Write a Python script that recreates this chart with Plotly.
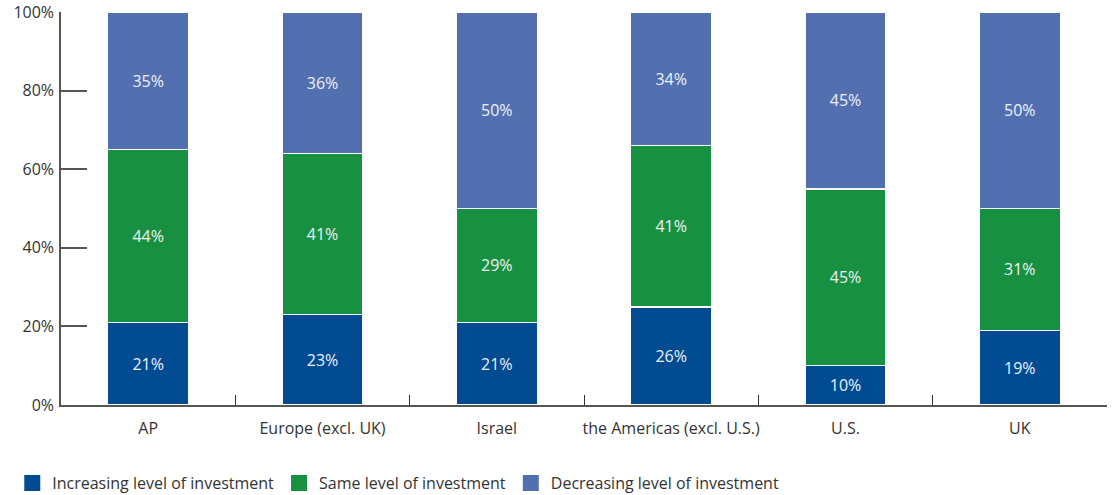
import plotly.graph_objects as go

categories = ["AP", "Europe (excl. UK)", "Israel", "the Americas (excl. U.S.)", "U.S.", "UK"]
increasing = [21, 23, 21, 25, 10, 19]
same = [44, 41, 29, 41, 45, 31]
decreasing = [35, 36, 50, 34, 45, 50]
increasing_labels = ["21%", "23%", "21%", "26%", "10%", "19%"]
same_labels = ["44%", "41%", "29%", "41%", "45%", "31%"]
decreasing_labels = ["35%", "36%", "50%", "34%", "45%", "50%"]
series_names = ["Increasing level of investment", "Same level of investment", "Decreasing level of investment"]
y_ticks = [0, 20, 40, 60, 80, 100]
y_tick_labels = ["0%", "20%", "40%", "60%", "80%", "100%"]

colors = ["#004B91", "#179141", "#526FAF"]
FONT = "Open Sans"

fig = go.Figure()
for vals, labels, name, col in zip([increasing, same, decreasing],
                                   [increasing_labels, same_labels, decreasing_labels],
                                   series_names, colors):
    fig.add_trace(go.Bar(
        x=categories, y=vals, name=name, text=labels,
        texttemplate="%{text}", textposition="inside", insidetextanchor="middle",
        textfont=dict(color="#EEF2F8", size=16, family=FONT),
        marker=dict(color=col, line=dict(color="white", width=1.5)),
        showlegend=False, hoverinfo="skip",
    ))
    fig.add_trace(go.Scatter(
        x=[None], y=[None], mode="markers", name=name,
        marker=dict(symbol="square", size=17, color=col),
    ))

fig.update_layout(
    barmode="stack",
    bargap=0.535,
    width=1115, height=495,
    margin=dict(l=61, r=8, t=12, b=90),
    plot_bgcolor="white", paper_bgcolor="white",
    font=dict(family=FONT, size=16, color="#333333"),
    legend=dict(orientation="h", xref="container", x=0.011, xanchor="left",
                yref="container", y=0.024, yanchor="middle",
                font=dict(size=16, color="#333333", family=FONT),
                traceorder="normal", itemclick=False, tracegroupgap=0),
)
fig.update_xaxes(
    showline=True, linecolor="#555555", linewidth=1.5,
    ticks="inside", tickson="boundaries", ticklen=10, tickcolor="#333333",
    tickfont=dict(size=16, color="#333333", family=FONT),
    tickangle=0, automargin=False, ticklabelstandoff=8,
    showgrid=False,
)
fig.update_yaxes(
    range=[0, 100], tickvals=y_ticks, ticktext=y_tick_labels,
    showline=True, linecolor="#555555", linewidth=1.5,
    ticks="inside", ticklen=26, tickcolor="#555555", tickwidth=1.5,
    tickfont=dict(size=16, color="#333333", family=FONT),
    automargin=False, ticklabelstandoff=2,
    showgrid=False, zeroline=False,
)

fig.write_html("out.html", config={"displayModeBar": False},
               post_script="document.body.style.margin='0';")
